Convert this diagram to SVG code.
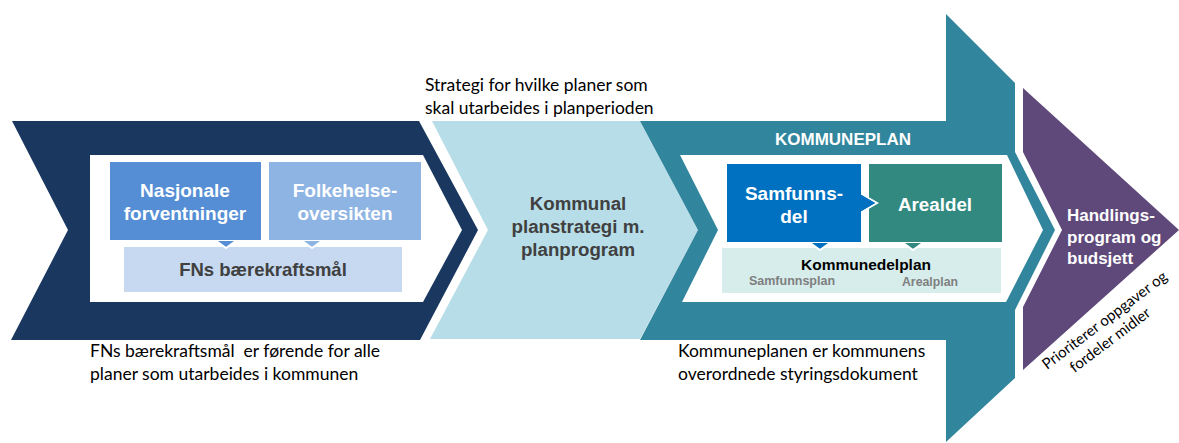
<svg xmlns="http://www.w3.org/2000/svg" width="1179" height="443" viewBox="0 0 1179 443">
<style>
.lbl{font-family:"Liberation Sans",Arial,sans-serif;font-weight:bold;text-anchor:middle}
.w{fill:#ffffff}
.g{fill:#404040}
.note{font-family:Lato,"Open Sans",sans-serif;font-size:17.5px;fill:#000000;white-space:pre}
.ptr{stroke:#ffffff;stroke-width:2}
</style>
<rect width="1179" height="443" fill="#ffffff"/>
<g id="navy-chevron">
<polygon points="12,121 419,121 478,230 420,340 11,340 68,230" fill="#19375F"/>
<polygon points="90,155 423,155 462,230 423,302 90,302" fill="#ffffff"/>
</g>
<g id="fns">
<rect x="124" y="247" width="278" height="45" fill="#C6D9F1"/>
<text class="lbl g" x="263" y="276" font-size="18.5">FNs bærekraftsmål</text>
</g>
<g id="nasjonale">
<polygon class="ptr" points="215,240 226,248 237,240" fill="#558ED5"/>
<rect x="110" y="162" width="151" height="78" fill="#558ED5"/>
<text class="lbl w" x="185" y="197" font-size="19">Nasjonale</text>
<text class="lbl w" x="185" y="220" font-size="19">forventninger</text>
</g>
<g id="folkehelse">
<polygon class="ptr" points="301,240 312,248 323,240" fill="#8EB4E3"/>
<rect x="269" y="162" width="152" height="78" fill="#8EB4E3"/>
<text class="lbl w" x="345" y="197" font-size="19">Folkehelse-</text>
<text class="lbl w" x="345" y="220" font-size="19">oversikten</text>
</g>
<g id="planstrategi">
<polygon points="432,121 640,121 698,230 640,339 430,339 488,230" fill="#B7DDE8"/>
<text class="lbl g" x="578" y="210" font-size="18.7">Kommunal</text>
<text class="lbl g" x="578" y="233" font-size="18.7">planstrategi m.</text>
<text class="lbl g" x="578" y="256" font-size="18.7">planprogram</text>
</g>
<g id="kommuneplan">
<polygon points="640,121 946,121 946,14 1015,83 1015,152 1055,230 1015,310 1015,378 946,442 946,340 640,340 698,230" fill="#31859C"/>
<polygon points="680,155 1007,155 1043,230 1006,302 682,302 718,230" fill="#ffffff"/>
<text class="lbl w" x="843" y="145" font-size="17">KOMMUNEPLAN</text>
</g>
<g id="kommunedelplan">
<rect x="722" y="248" width="279" height="45" fill="#D6EDEC"/>
<text class="lbl" x="866" y="270" font-size="15.5" fill="#000000">Kommunedelplan</text>
<text class="lbl" x="792" y="285" font-size="12.5" fill="#7F7F7F">Samfunnsplan</text>
<text class="lbl" x="930" y="286" font-size="12.3" fill="#7F7F7F">Arealplan</text>
</g>
<g id="arealdel">
<polygon class="ptr" points="902,242 913,250 924,242" fill="#31897F"/>
<rect x="869" y="164" width="133" height="78" fill="#31897F"/>
<text class="lbl w" x="935" y="211" font-size="18.8">Arealdel</text>
</g>
<g id="samfunnsdel">
<polygon class="ptr" points="809,242 820,250 831,242" fill="#0070C0"/>
<polygon class="ptr" points="858,192 877,203 858,214" fill="#0070C0"/>
<rect x="727" y="164" width="134" height="78" fill="#0070C0"/>
<polygon points="859,193.5 875,203 859,212.5" fill="#0070C0"/>
<text class="lbl w" x="794" y="200" font-size="19">Samfunns-</text>
<text class="lbl w" x="794" y="223" font-size="19">del</text>
</g>
<g id="handlingsprogram">
<polygon points="1023,88 1179,230 1023,370 1023,307 1062,230 1023,152" fill="#5F497A"/>
<text font-family="Liberation Sans,Arial,sans-serif" font-weight="bold" font-size="17" fill="#ffffff">
<tspan x="1067" y="221">Handlings-</tspan>
<tspan x="1067" y="243">program og</tspan>
<tspan x="1067" y="264">budsjett</tspan>
</text>
</g>
<g id="notes">
<text class="note" x="425" y="91">Strategi for hvilke planer som</text>
<text class="note" x="425" y="114">skal utarbeides i planperioden</text>
<text class="note" x="90" y="357">FNs bærekraftsmål  er førende for alle</text>
<text class="note" x="90" y="380">planer som utarbeides i kommunen</text>
<text class="note" x="678" y="357">Kommuneplanen er kommunens</text>
<text class="note" x="678" y="380">overordnede styringsdokument</text>
<text class="note" style="font-size:15px" transform="translate(1047,370) rotate(-37)">
<tspan x="0" y="0">Prioriterer oppgaver og</tspan>
<tspan x="20" y="19">fordeler midler</tspan>
</text>
</g>
<g id="connectors"></g>
</svg>
